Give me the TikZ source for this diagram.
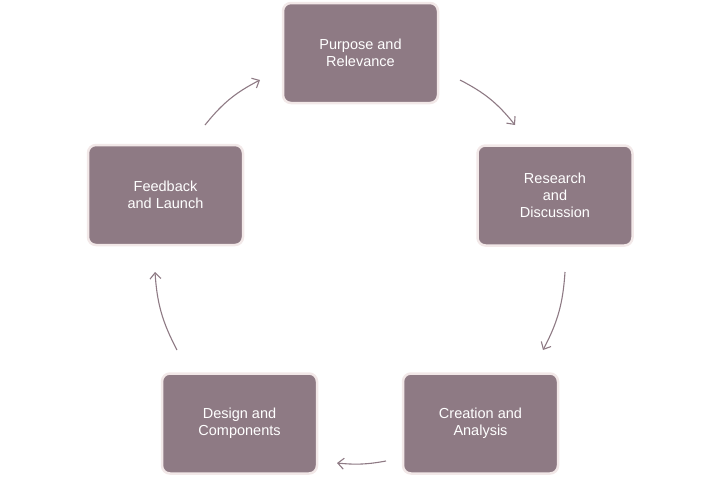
\documentclass[tikz,border=0pt]{standalone}
\usepackage{fontspec}
\setmainfont{Liberation Sans}
\usetikzlibrary{arrows.meta}
\definecolor{boxfill}{HTML}{8E7A84}
\definecolor{boxline}{HTML}{F2E8E8}
\definecolor{arr}{HTML}{8E7A84}
\begin{document}
\begin{tikzpicture}[x=1pt,y=-1pt,
  box/.style={draw=boxline,line width=2.5pt,fill=boxfill,rounded corners=8pt,
    minimum width=155pt,minimum height=100pt,text=white,align=center,
    font=\fontsize{14.5}{17}\selectfont},
  con/.style={draw=arr,line width=1.1pt,-{Straight Barb[length=6pt,width=11pt]}}]
\useasboundingbox (0,0) rectangle (720,482);
\node[box] (a) at (360.5,53) {Purpose and\\Relevance};
\node[box] (b) at (555,195.5) {Research\\and\\Discussion};
\node[box] (c) at (480.5,423.5) {Creation and\\Analysis};
\node[box] (d) at (239.5,423.5) {Design and\\Components};
\node[box] (e) at (165.5,195) {Feedback\\and Launch};
\coordinate (a1) at (460,80); \coordinate (b0) at (515,125);
\coordinate (b1) at (565,272); \coordinate (c0) at (543,350);
\coordinate (c1) at (386,461); \coordinate (d0) at (337,463);
\coordinate (d1) at (177,350); \coordinate (e0) at (155,272);
\coordinate (e1) at (205,125); \coordinate (a0) at (260,80);
\draw[con] (a1) to[bend left=12] (b0);
\draw[con] (b1) to[bend left=12] (c0);
\draw[con] (c1) to[bend left=8] (d0);
\draw[con] (d1) to[bend left=12] (e0);
\draw[con] (e1) to[bend left=12] (a0);
\end{tikzpicture}
\end{document}
